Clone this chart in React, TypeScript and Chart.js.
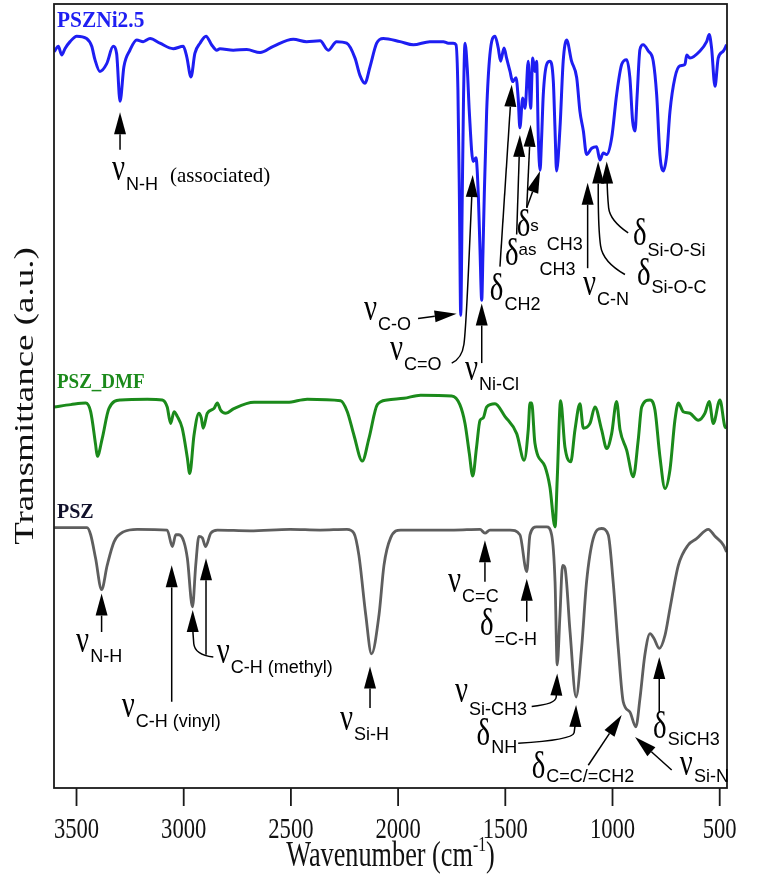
import React, { useEffect, useRef } from "react";
import { Chart, registerables } from "chart.js";
Chart.register(...registerables);

// ---------- data ----------
const xTickValues = [3500, 3000, 2500, 2000, 1500, 1000, 500];
const seriesNames = ["PSZNi2.5", "PSZ_DMF", "PSZ"];

const ni25Wavenumber = [3605, 3600, 3585, 3569, 3554, 3530, 3499, 3453, 3429, 3414, 3391, 3359, 3329, 3313, 3297, 3279, 3251, 3219, 3189, 3157, 3111, 3049, 3002, 2986, 2966, 2948, 2924, 2896, 2870, 2846, 2831, 2769, 2706, 2644, 2582, 2489, 2427, 2364, 2326, 2287, 2240, 2201, 2178, 2155, 2131, 2100, 2069, 1991, 1929, 1852, 1789, 1766, 1743, 1730, 1721, 1714, 1708, 1701, 1695, 1688, 1677, 1668, 1650, 1637, 1626, 1618, 1610, 1604, 1598, 1587, 1572, 1548, 1533, 1522, 1506, 1494, 1478, 1466, 1450, 1440, 1432, 1419, 1408, 1393, 1382, 1372, 1362, 1354, 1346, 1338, 1331, 1323, 1307, 1292, 1276, 1268, 1261, 1245, 1230, 1214, 1191, 1167, 1152, 1136, 1121, 1097, 1074, 1059, 1043, 1027, 1004, 981, 957, 934, 919, 906, 895, 885, 872, 857, 833, 810, 794, 779, 763, 747, 732, 709, 686, 662, 654, 639, 592, 561, 549, 538, 522, 507, 483, 468];
const ni25T = [93.9, 94.1, 94.6, 93.5, 94.3, 95.2, 95.9, 95.6, 94.6, 92.9, 91.4, 92.4, 94.6, 93.7, 87.6, 92.0, 94.1, 95.4, 95.2, 95.6, 95.0, 94.3, 94.6, 93.3, 90.7, 93.7, 95.0, 95.9, 94.8, 94.1, 94.3, 94.1, 94.2, 93.8, 94.6, 95.5, 95.2, 95.3, 94.1, 95.2, 95.0, 93.1, 90.9, 89.9, 92.0, 95.0, 95.6, 95.2, 94.8, 95.2, 95.2, 95.0, 95.0, 94.8, 89.0, 75.0, 60.3, 75.0, 87.8, 95.0, 91.6, 86.3, 79.9, 80.4, 75.7, 68.6, 62.2, 68.6, 75.7, 86.3, 93.5, 95.9, 94.4, 92.7, 94.4, 93.1, 91.4, 90.1, 90.6, 88.0, 84.2, 88.0, 86.7, 92.7, 86.7, 93.1, 91.4, 92.7, 82.9, 78.8, 82.7, 88.4, 92.3, 92.7, 90.1, 83.9, 78.7, 84.2, 92.7, 95.4, 92.7, 90.6, 86.3, 83.8, 80.8, 81.6, 81.8, 80.1, 81.0, 80.8, 82.9, 88.4, 92.3, 92.9, 90.6, 85.0, 83.8, 88.4, 94.2, 94.8, 94.0, 92.7, 88.4, 80.8, 78.7, 80.8, 86.3, 90.6, 92.1, 92.3, 93.5, 93.1, 94.0, 95.2, 96.1, 94.4, 89.5, 93.1, 94.0, 94.8];

const dmfWavenumber = [3605, 3527, 3457, 3434, 3411, 3403, 3380, 3349, 3294, 3170, 3100, 3077, 3061, 3045, 3030, 3007, 2983, 2972, 2952, 2929, 2918, 2909, 2890, 2859, 2843, 2828, 2804, 2766, 2672, 2517, 2424, 2268, 2237, 2206, 2167, 2136, 2097, 2051, 1973, 1895, 1750, 1712, 1688, 1668, 1652, 1634, 1618, 1603, 1587, 1548, 1502, 1447, 1412, 1393, 1385, 1377, 1362, 1315, 1292, 1268, 1258, 1242, 1222, 1195, 1175, 1152, 1136, 1105, 1082, 1051, 1027, 1004, 981, 965, 934, 903, 880, 864, 825, 802, 779, 755, 732, 709, 693, 670, 639, 600, 569, 549, 530, 499, 476, 468];
const dmfT = [48.6, 48.9, 49.1, 48.0, 43.8, 42.3, 44.6, 48.4, 49.5, 49.6, 49.5, 48.6, 46.5, 48.0, 47.4, 45.9, 42.1, 40.1, 45.0, 47.8, 47.2, 45.9, 47.8, 48.4, 49.1, 48.2, 47.8, 48.4, 49.2, 49.2, 49.6, 49.4, 48.0, 45.0, 41.7, 44.6, 48.9, 49.5, 49.7, 50.1, 50.0, 48.9, 46.5, 42.7, 39.8, 43.5, 46.9, 47.2, 48.6, 49.0, 47.4, 45.2, 41.8, 45.7, 49.1, 49.1, 44.0, 41.0, 38.4, 33.3, 39.3, 49.4, 43.5, 41.6, 45.7, 49.0, 45.9, 46.5, 48.6, 45.7, 43.3, 45.2, 49.3, 45.7, 43.1, 39.7, 44.4, 48.6, 49.5, 48.2, 42.3, 38.2, 40.6, 46.9, 49.1, 48.0, 47.8, 46.9, 47.8, 49.3, 46.5, 49.5, 46.1, 45.9];

const pszWavenumber = [3605, 3451, 3434, 3411, 3383, 3357, 3325, 3279, 3217, 3077, 3053, 3037, 3022, 2999, 2983, 2959, 2944, 2929, 2913, 2898, 2874, 2843, 2691, 2504, 2364, 2239, 2206, 2183, 2151, 2124, 2089, 2066, 2035, 1988, 1740, 1618, 1595, 1572, 1478, 1432, 1400, 1385, 1354, 1307, 1284, 1268, 1258, 1245, 1233, 1222, 1198, 1170, 1144, 1121, 1090, 1051, 1020, 997, 973, 950, 919, 891, 872, 849, 825, 807, 782, 755, 732, 693, 647, 608, 553, 522, 483, 468];
const pszT = [33.2, 33.2, 32.3, 29.3, 25.3, 28.4, 31.4, 32.7, 33.0, 32.9, 30.8, 32.3, 32.3, 31.4, 29.3, 23.1, 28.4, 32.1, 31.9, 30.8, 32.5, 32.9, 32.8, 33.0, 32.9, 33.0, 32.5, 29.7, 22.1, 17.1, 22.1, 28.4, 31.9, 32.9, 32.9, 33.0, 32.5, 32.9, 32.9, 32.3, 27.6, 32.3, 33.3, 33.3, 32.3, 26.3, 15.7, 22.1, 28.4, 28.1, 19.9, 11.6, 17.9, 26.3, 31.8, 33.1, 32.3, 26.3, 17.8, 11.0, 9.7, 7.8, 11.4, 17.0, 19.7, 19.1, 17.8, 19.5, 22.9, 28.4, 31.0, 31.8, 33.0, 32.1, 31.0, 30.1];

// ---------- annotations (data coordinates: wavenumber, a.u.) ----------
type Pt = [number, number];
interface Ann {
  g: string;
  at: Pt;
  sub: string;
  sup?: string;
  supDy?: number;
  subDy?: number;
  gap?: number;
  arrows: Pt[][];
}

const annotations: Ann[] = [
  { g: "ν", at: [3335, 77.6], sub: "N-H", arrows: [[[3297, 81.4], [3297, 86.2]]] },
  { g: "ν", at: [2159, 59.7], sub: "C-O", arrows: [[[1907, 59.9], [1727, 60.5]]] },
  { g: "ν", at: [2038, 54.6], sub: "C=O", arrows: [[[1750, 54.2], [1702, 54.8], [1684, 58.4], [1652, 78.2]]] },
  { g: "ν", at: [1688, 52.0], sub: "Ni-Cl", arrows: [[[1610, 54.2], [1610, 61.8]]] },
  { g: "δ", at: [1572, 62.2], sub: "CH2", arrows: [[[1525, 66.5], [1470, 89.7]]] },
  { g: "δ", at: [1502, 66.7], sup: "as", supDy: -10, sub: "CH3", subDy: 10, gap: 2, arrows: [[[1447, 70.6], [1432, 83.3]]] },
  { g: "δ", at: [1447, 70.4], sup: "s", supDy: -5, sub: "CH3", subDy: 14, gap: 7, arrows: [[[1400, 74.0], [1382, 84.6]], [[1400, 74.0], [1338, 78.7]]] },
  { g: "ν", at: [1138, 62.9], sub: "C-N", arrows: [[[1116, 66.3], [1116, 77.2]]] },
  { g: "δ", at: [886, 64.2], sub: "Si-O-C", subDy: 8, arrows: [[[942, 65.5], [1045, 67.1], [1066, 71.2], [1067, 79.9]]] },
  { g: "δ", at: [905, 69.3], sub: "Si-O-Si", subDy: 11, arrows: [[[927, 70.8], [1012, 72.4], [1024, 75.6], [1027, 79.9]]] },
  { g: "ν", at: [3502, 17.3], sub: "N-H", arrows: [[[3383, 19.9], [3383, 24.8]]] },
  { g: "ν", at: [3289, 9.1], sub: "C-H (vinyl)", arrows: [[[3056, 11.0], [3056, 28.4]]] },
  { g: "ν", at: [2846, 15.9], sub: "C-H (methyl)", arrows: [[[2862, 16.7], [2948, 17.0], [2958, 19.8], [2958, 22.7]], [[2896, 17.0], [2896, 29.3]]] },
  { g: "ν", at: [2271, 7.4], sub: "Si-H", arrows: [[[2131, 10.2], [2131, 15.5]]] },
  { g: "ν", at: [1767, 25.0], sub: "C=C", arrows: [[[1595, 26.3], [1595, 31.6]]] },
  { g: "δ", at: [1618, 19.5], sub: "=C-H", arrows: [[[1400, 21.2], [1400, 26.7]]] },
  { g: "ν", at: [1735, 11.0], sub: "Si-CH3", subDy: 13, arrows: [[[1377, 10.4], [1264, 10.7], [1261, 12.5], [1258, 14.6]]] },
  { g: "δ", at: [1634, 5.5], sub: "NH", subDy: 8, arrows: [[[1440, 5.7], [1185, 6.1], [1173, 8.0], [1170, 10.6]]] },
  { g: "δ", at: [1377, 1.3], sub: "C=C/=CH2", subDy: 4, arrows: [[[1113, 2.9], [957, 9.3]]] },
  { g: "ν", at: [686, 1.7], sub: "Si-N", subDy: 7, arrows: [[[724, 2.3], [895, 6.5]]] },
  { g: "δ", at: [811, 6.4], sub: "SiCH3", subDy: 7, arrows: [[[782, 9.7], [782, 16.7]]] },
];

const SERIF = '"Liberation Serif", "Times New Roman", serif';
const SANS = '"Liberation Sans", Arial, sans-serif';
const GREEK_FONT = `37px ${SERIF}`;
const SUB_FONT = `18px ${SANS}`;

const seriesColors = ["#1e1ef2", "#1b8a1b", "#5e5e5e"];
const seriesLabelColors = ["#1e1ef2", "#1b8a1b", "#10102a"];
const seriesLabelAt: Pt[] = [[3591, 97.1], [3591, 51.0], [3591, 34.4]];
const seriesLabelFonts = [`bold 23px ${SERIF}`, `bold 20px ${SERIF}`, `bold 20px ${SERIF}`];
const seriesLabelSx = [0.93, 0.95, 1];

function drawText(ctx: CanvasRenderingContext2D, text: string, x: number, y: number, font: string, sx: number, color: string, align: "left" | "center" = "left") {
  ctx.save();
  ctx.font = font;
  ctx.fillStyle = color;
  ctx.textAlign = "left";
  ctx.textBaseline = "alphabetic";
  const w = ctx.measureText(text).width * sx;
  const x0 = align === "center" ? x - w / 2 : x;
  ctx.translate(x0, y);
  ctx.scale(sx, 1);
  ctx.fillText(text, 0, 0);
  ctx.restore();
  return w;
}

function drawArrow(ctx: CanvasRenderingContext2D, pts: Pt[]) {
  const n = pts.length;
  const tip = pts[n - 1];
  const prev = pts[n - 2];
  const dx = tip[0] - prev[0];
  const dy = tip[1] - prev[1];
  const len = Math.hypot(dx, dy) || 1;
  const ux = dx / len, uy = dy / len;
  const L = 22, W = 6;
  const bx = tip[0] - ux * L, by = tip[1] - uy * L;
  ctx.save();
  ctx.strokeStyle = "#000";
  ctx.fillStyle = "#000";
  ctx.lineWidth = 1.5;
  ctx.beginPath();
  ctx.moveTo(pts[0][0], pts[0][1]);
  for (let i = 1; i < n - 1; i++) {
    const p = pts[i];
    const q = pts[i + 1];
    ctx.quadraticCurveTo(p[0], p[1], (p[0] + q[0]) / 2, (p[1] + q[1]) / 2);
  }
  ctx.lineTo(bx, by);
  ctx.stroke();
  ctx.beginPath();
  ctx.moveTo(tip[0], tip[1]);
  ctx.lineTo(bx - uy * W, by + ux * W);
  ctx.lineTo(bx + uy * W, by - ux * W);
  ctx.closePath();
  ctx.fill();
  ctx.restore();
}

const overlay = {
  id: "overlay",
  afterDraw(chart: any) {
    const { ctx, chartArea, scales } = chart;
    const xs = scales.x, ys = scales.y;
    const px = (v: number) => xs.getPixelForValue(v);
    const py = (v: number) => ys.getPixelForValue(v);
    const { left, right, top, bottom } = chartArea;
    ctx.save();
    // frame
    ctx.strokeStyle = "#1a1a1a";
    ctx.lineWidth = 1.8;
    ctx.strokeRect(left, top, right - left, bottom - top);
    // ticks
    ctx.beginPath();
    for (const v of xTickValues) {
      ctx.moveTo(px(v), bottom);
      ctx.lineTo(px(v), bottom + 18);
    }
    ctx.stroke();
    ctx.restore();
    for (const v of xTickValues) {
      drawText(ctx, String(v), px(v), bottom + 50, `29px ${SERIF}`, 0.78, "#111", "center");
    }

    // x title
    {
      const sx = 0.75;
      ctx.save();
      ctx.font = `35px ${SERIF}`;
      const w1 = ctx.measureText("Wavenumber (cm").width * sx;
      const w3 = ctx.measureText(")").width * sx;
      ctx.font = `21px ${SERIF}`;
      const w2 = ctx.measureText("-1").width * sx;
      ctx.restore();
      const total = w1 + w2 + w3;
      let x = (left + right) / 2 - total / 2;
      const yb = bottom + 78;
      x += drawText(ctx, "Wavenumber (cm", x, yb, `35px ${SERIF}`, sx, "#111");
      x += drawText(ctx, "-1", x, yb - 15, `21px ${SERIF}`, sx, "#111");
      drawText(ctx, ")", x, yb, `35px ${SERIF}`, sx, "#111");
    }
    // y title
    ctx.save();
    ctx.translate(33, (top + bottom) / 2);
    ctx.rotate(-Math.PI / 2);
    ctx.scale(1, 0.75);
    ctx.font = `37px ${SERIF}`;
    ctx.fillStyle = "#111";
    ctx.textAlign = "center";
    ctx.textBaseline = "alphabetic";
    ctx.fillText("Transmittance (a.u.)", 0, 0);
    ctx.restore();

    // series labels
    seriesNames.forEach((name, i) => {
      drawText(ctx, name, px(seriesLabelAt[i][0]), py(seriesLabelAt[i][1]), seriesLabelFonts[i], seriesLabelSx[i], seriesLabelColors[i]);
    });

    // extra text
    drawText(ctx, "(associated)", px(3064), py(77.3), `21px ${SERIF}`, 1, "#000");

    // annotations
    for (const a of annotations) {
      const x0 = px(a.at[0]);
      const y0 = py(a.at[1]);
      let x = x0 + drawText(ctx, a.g, x0, y0, GREEK_FONT, 0.78, "#000");
      if (a.sup) {
        x += drawText(ctx, a.sup, x, y0 + (a.supDy ?? -10), `17px ${SANS}`, 1, "#000") + (a.gap ?? 2);
      }
      drawText(ctx, a.sub, x + 1, y0 + (a.subDy ?? 10), SUB_FONT, 1, "#000");
      for (const path of a.arrows) {
        drawArrow(ctx, path.map(([w, t]) => [px(w), py(t)] as Pt));
      }
    }
  },
};

function toPoints(xs: number[], ys: number[]) {
  return xs.map((x, i) => ({ x, y: ys[i] }));
}

export default function App() {
  const ref = useRef<HTMLCanvasElement>(null);
  useEffect(() => {
    if (!ref.current) return;
    const series = [
      [ni25Wavenumber, ni25T],
      [dmfWavenumber, dmfT],
      [pszWavenumber, pszT],
    ];
    const chart = new Chart(ref.current, {
      type: "line",
      data: {
        datasets: series.map(([xs, ys], i) => ({
          label: seriesNames[i],
          data: toPoints(xs, ys),
          borderColor: seriesColors[i],
          borderWidth: i === 2 ? 2.8 : 3,
          pointRadius: 0,
          fill: false,
          cubicInterpolationMode: "monotone" as const,
        })),
      },
      options: {
        responsive: false,
        animation: false,
        devicePixelRatio: 1,
        layout: { padding: { left: 54, right: 47, top: 4, bottom: 94 } },
        plugins: { legend: { display: false }, tooltip: { enabled: false } },
        scales: {
          x: { type: "linear", reverse: true, min: 466, max: 3605, display: false },
          y: { type: "linear", min: 0, max: 100, display: false },
        },
      },
      plugins: [overlay],
    });
    return () => chart.destroy();
  }, []);
  return (
    <div style={{ position: "absolute", left: 0, top: 0, width: 774, height: 882, background: "#fff" }}>
      <canvas ref={ref} width={774} height={882} style={{ display: "block" }} />
    </div>
  );
}
